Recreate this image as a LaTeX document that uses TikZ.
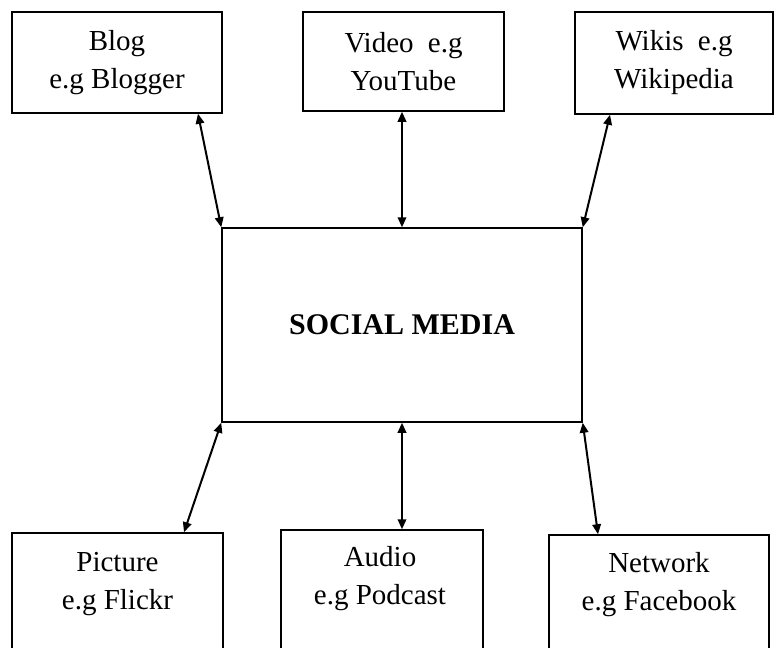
\documentclass[tikz,border=0pt]{standalone}
\usepackage{fontspec}
\setmainfont{Liberation Serif}
\usetikzlibrary{arrows.meta}
\begin{document}
\begin{tikzpicture}[x=1pt,y=-1pt,
  box/.style={draw, line width=1.5pt, inner sep=0pt},
  lbl/.style={align=center, inner sep=0pt, font=\fontsize{29}{38}\selectfont},
  link/.style={line width=2pt, {Triangle[length=10pt,width=8.5pt]}-{Triangle[length=10pt,width=8.5pt]}}]
\useasboundingbox (0,0) rectangle (774,648);
\clip (0,0) rectangle (774,648);
% top boxes
\node[box, lbl, minimum width=210pt, minimum height=101pt] (blog) at (117,62.5) {Blog\\e.g Blogger};
\node[box, lbl, minimum width=201pt, minimum height=99pt] (video) at (403.5,61.5) {Video\hspace{7pt} e.g\\YouTube};
\node[box, lbl, minimum width=198pt, minimum height=102pt] (wikis) at (674,63) {Wikis\hspace{7pt} e.g\\Wikipedia};
% centre
\node[box, minimum width=360pt, minimum height=194pt, font=\fontsize{30}{36}\selectfont\bfseries] (sm) at (402,325) {SOCIAL MEDIA};
% bottom boxes (run past the lower edge)
\node[box, minimum width=211pt, minimum height=147pt] (pic) at (117.5,606.5) {};
\node[box, minimum width=202pt, minimum height=150pt] (aud) at (382,605) {};
\node[box, minimum width=220pt, minimum height=145pt] (net) at (659,607.5) {};
\node[lbl, anchor=north] (pictxt) at ([yshift=-20pt]pic.north) {Picture\\e.g Flickr};
\node[lbl, anchor=north] (audtxt) at ([yshift=-17pt,xshift=-2pt]aud.north) {Audio\\e.g Podcast};
\node[lbl, anchor=north] (nettxt) at ([yshift=-18pt]net.north) {Network\\e.g Facebook};
% connectors
\draw[link] ([xshift=81pt]blog.south) -- (sm.north west);
\draw[link] (sm.north |- video.south) -- (sm.north);
\draw[link] ([xshift=-64pt]wikis.south) -- (sm.north east);
\draw[link] (sm.south west) -- ([xshift=66.5pt]pic.north);
\draw[link] (sm.south) -- (sm.south |- aud.north);
\draw[link] (sm.south east) -- ([xshift=-61pt]net.north);
\end{tikzpicture}
\end{document}
